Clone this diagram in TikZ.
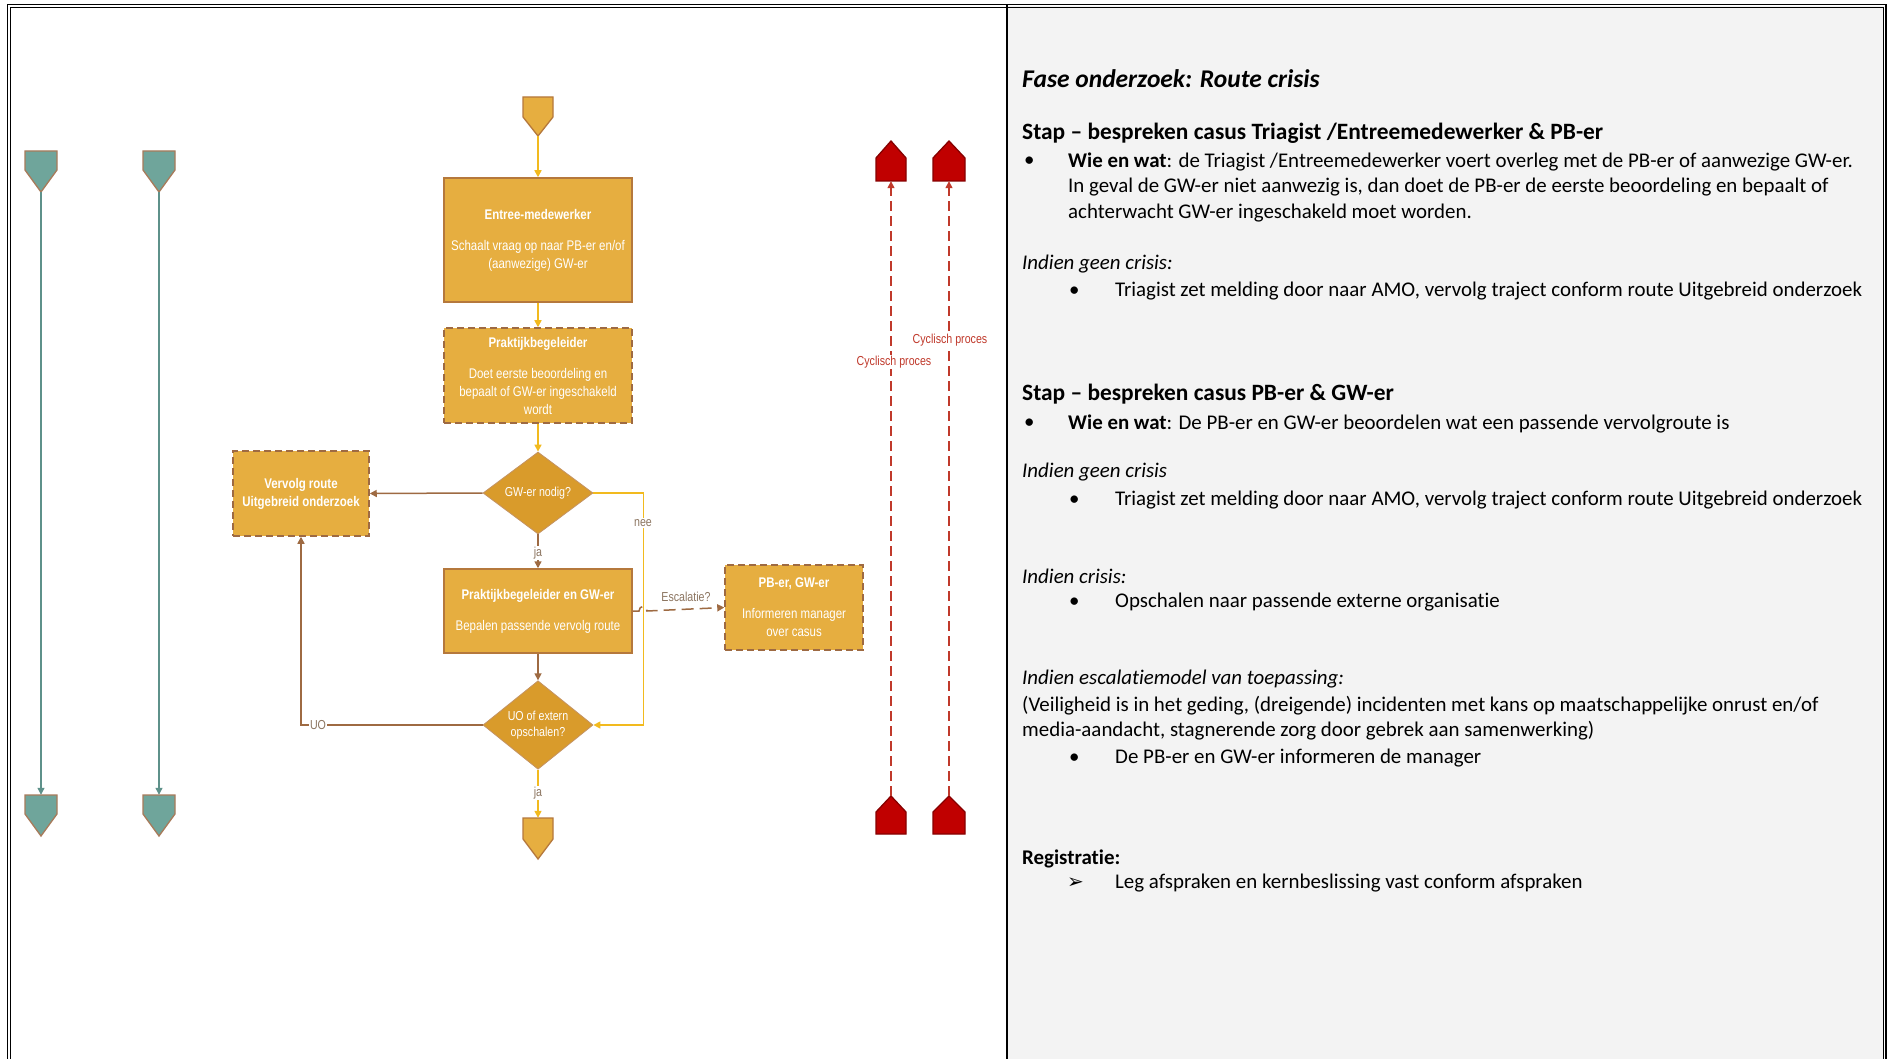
\documentclass[tikz,border=0pt]{standalone}
\usepackage{fontspec}
\setmainfont{Carlito}[Ligatures=NoCommon]
\newfontfamily\flowfont[FakeStretch=0.82]{Liberation Sans}
\newfontfamily\symfont{DejaVu Sans}
\usetikzlibrary{arrows.meta,shapes.geometric}
\definecolor{boxfill}{HTML}{E6AE40}
\definecolor{diafill}{HTML}{D99B2B}
\definecolor{boxedge}{HTML}{B5783C}
\definecolor{brownline}{HTML}{9E6A42}
\definecolor{lblcol}{HTML}{8C7560}
\definecolor{yellowline}{HTML}{F2BA1E}
\definecolor{tealfill}{HTML}{6FA59B}
\definecolor{tealline}{HTML}{5E918A}
\definecolor{tealedge}{HTML}{A87A5A}
\definecolor{redfill}{HTML}{C00000}
\definecolor{redline}{HTML}{C0392B}
\definecolor{panelgray}{HTML}{F3F3F3}
\newcommand\tagdown[8]{%
  \draw[fill=#7,draw=#8,line width=1.3pt] (#2,#3) ++(-#4,0) -- ++(2*#4,0) -- ++(0,#5) -- ++(-#4,#6) -- ++(-#4,-#6) -- cycle;
  \node[inner sep=0,minimum width=2*#4,minimum height=#5+#6] (#1) at (#2,#3+#5/2+#6/2) {};}
\newcommand\tagup[8]{%
  \draw[fill=#7,draw=#8,line width=1.3pt] (#2,#3) ++(-#4,0) -- ++(2*#4,0) -- ++(0,-#5) -- ++(-#4,-#6) -- ++(-#4,#6) -- cycle;
  \node[inner sep=0,minimum width=2*#4,minimum height=#5+#6] (#1) at (#2,#3-#5/2-#6/2) {};}
\tikzset{
  box/.style={rectangle, draw=boxedge, line width=1.5pt, fill=boxfill, text=white,
    font=\flowfont\fontsize{14}{18}\selectfont, align=center, minimum width=188, inner sep=2},
  dbox/.style={box, draw=brownline, dash pattern=on 7pt off 4pt},
  dia/.style={diamond, fill=diafill, draw=boxedge!80, line width=0.8pt, text=white,
    minimum width=110, minimum height=82, inner sep=0, align=center,
    font=\flowfont\fontsize{13}{16}\selectfont},
  yarr/.style={draw=yellowline, line width=1.5pt, -{Triangle[length=7pt,width=7pt]}},
  barr/.style={draw=brownline, line width=1.5pt, -{Triangle[length=7pt,width=7pt]}},
  tarr/.style={draw=tealline, line width=1.2pt, -{Triangle[length=7pt,width=7pt]}},
  rarr/.style={draw=redline, line width=1.5pt, dash pattern=on 10pt off 5pt, -{Triangle[length=7pt,width=7pt]}},
  lbl/.style={fill=white, inner sep=1pt, text=lblcol, font=\flowfont\fontsize{13}{15}\selectfont},
  rlbl/.style={fill=white, inner sep=1pt, text=redline, font=\flowfont\fontsize{13}{15}\selectfont},
  txt/.style={anchor=west, inner sep=0, font=\fontsize{20.9}{25}\selectfont},
  head/.style={anchor=west, inner sep=0, font=\fontsize{23.4}{28}\selectfont\bfseries},
}
\begin{document}
\begin{tikzpicture}[x=1pt,y=-1pt]
\useasboundingbox (0,0) rectangle (1890,1059);
\fill[white] (0,0) rectangle (1890,1059);
\fill[panelgray] (1008,6) rectangle (1884,1059);
% borders
\draw[line width=1.6pt] (7.5,1059) -- (7.5,4.5) -- (1886,4.5) -- (1886,1059);
\draw[line width=0.8pt] (10.5,1059) -- (10.5,7.5) -- (1883,7.5) -- (1883,1059);
\draw[line width=1.8pt] (1007,5) -- (1007,1059);

% teal off-page connectors
\tagdown{ta}{41}{151}{16}{19}{22}{tealfill}{tealedge}
\tagdown{tb}{159}{151}{16}{19}{22}{tealfill}{tealedge}
\tagdown{tc}{41}{795}{16}{19}{22}{tealfill}{tealedge}
\tagdown{td}{159}{795}{16}{19}{22}{tealfill}{tealedge}
\draw[tarr] (ta.south) -- (tc.north);
\draw[tarr] (tb.south) -- (td.north);

% red connectors
\tagup{ra}{891}{181}{15}{23}{17}{redfill}{redfill!70!black}
\tagup{rb}{949}{181}{16}{23}{17}{redfill}{redfill!70!black}
\tagup{rc}{891}{834}{15}{22}{16}{redfill}{redfill!70!black}
\tagup{rd}{949}{834}{16}{22}{16}{redfill}{redfill!70!black}
\draw[rarr] (rc.north) -- (ra.south);
\draw[rarr] (rd.north) -- (rb.south);
\node[rlbl] (cy1) at (894,362) {Cyclisch proces};
\node[rlbl] (cy2) at (950,340) {Cyclisch proces};

% flowchart
\tagdown{start}{538}{97}{15}{20}{19}{boxfill}{boxedge}
\node[box, minimum height=124] (entree) at (538,240)
  {\textbf{Entree-medewerker}\\[13pt]Schaalt vraag op naar PB-er en/of\\(aanwezige) GW-er};
\node[dbox, minimum height=95] (prak) at (538,375.5)
  {\textbf{Praktijkbegeleider}\\[13pt]Doet eerste beoordeling en\\bepaalt of GW-er ingeschakeld\\wordt};
\node[dia] (gw) at (538,493) {GW-er nodig?};
\node[dbox, minimum width=136, minimum height=85] (verv) at (301,493.5)
  {\textbf{Vervolg route}\\\textbf{Uitgebreid onderzoek}};
\node[box, minimum height=84] (pbgw) at (538,611)
  {\textbf{Praktijkbegeleider en GW-er}\\[13pt]Bepalen passende vervolg route};
\node[dia] (uo) at (538,725) {UO of extern\\opschalen?};
\node[dbox, minimum width=138, minimum height=85] (pber) at (794,607.5)
  {\textbf{PB-er, GW-er}\\[13pt]Informeren manager\\over casus};
\tagdown{stop}{538}{818}{15}{21}{20}{boxfill}{boxedge}

\draw[yarr] (start.south) -- (entree.north);
\draw[yarr] (entree.south) -- (prak.north);
\draw[yarr] (prak.south) -- (gw.north);
\draw[barr] (gw.west) -- (verv.east);
\draw[barr] (gw.south) -- (pbgw.north);
\node[lbl] (ja1) at (538,553) {ja};
\draw[yarr] (gw.east) -- ++(50,0) |- (uo.east);
\node[lbl] (nee) at (643,523) {nee};
\draw[barr] (pbgw.south) -- (uo.north);
\draw[barr] (uo.west) -| (verv.south);
\node[lbl] (uolbl) at (318,725) {UO};
\draw[yarr] (uo.south) -- (stop.north);
\node[lbl] (ja2) at (538,793) {ja};
\coordinate (hopa) at (639,611);
\coordinate (hopb) at (647,611);
\draw[barr, dash pattern=on 12pt off 6pt] (pbgw.east) -- (hopa) .. controls (639,605) and (647,605) .. (hopb) -- (pber.west);
\node[lbl, fill=none] (esc) at (686,597) {Escalatie?};

% right panel text
\node[anchor=west, inner sep=0, font=\fontsize{25.5}{30}\selectfont\bfseries\itshape] (title) at (1022,78.5) {Fase onderzoek: Route crisis};
\node[head] (h1) at (1022,133.5) {Stap – bespreken casus Triagist /Entreemedewerker \& PB-er};
\node[txt] (b1) at (1024,161.5) {•};
\node[txt] (l1) at (1068,161.5) {\textbf{Wie en wat}: de Triagist /Entreemedewerker voert overleg met de PB-er of aanwezige GW-er.};
\node[txt] (l2) at (1068,187) {In geval de GW-er niet aanwezig is, dan doet de PB-er de eerste beoordeling en bepaalt of};
\node[txt] (l3) at (1068,213.5) {achterwacht GW-er ingeschakeld moet worden.};
\node[txt] (i1) at (1022,264) {\itshape Indien geen crisis:};
\node[txt] (b2) at (1069,291.5) {•};
\node[txt] (l4) at (1115,291.5) {Triagist zet melding door naar AMO, vervolg traject conform route Uitgebreid onderzoek};
\node[head] (h2) at (1022,394.5) {Stap – bespreken casus PB-er \& GW-er};
\node[txt] (b3) at (1024,423.5) {•};
\node[txt] (l5) at (1068,423.5) {\textbf{Wie en wat}: De PB-er en GW-er beoordelen wat een passende vervolgroute is};
\node[txt] (i2) at (1022,472.5) {\itshape Indien geen crisis};
\node[txt] (b4) at (1069,500.5) {•};
\node[txt] (l6) at (1115,500.5) {Triagist zet melding door naar AMO, vervolg traject conform route Uitgebreid onderzoek};
\node[txt] (i3) at (1022,576.5) {\itshape Indien crisis:};
\node[txt] (b5) at (1069,602.5) {•};
\node[txt] (l7) at (1115,602.5) {Opschalen naar passende externe organisatie};
\node[txt] (i4) at (1022,679.5) {\itshape Indien escalatiemodel van toepassing:};
\node[txt] (l8) at (1022,705.5) {(Veiligheid is in het geding, (dreigende) incidenten met kans op maatschappelijke onrust en/of};
\node[txt] (l9) at (1022,730.5) {media-aandacht, stagnerende zorg door gebrek aan samenwerking)};
\node[txt] (b6) at (1069,758.5) {•};
\node[txt] (l10) at (1115,758.5) {De PB-er en GW-er informeren de manager};
\node[txt] (reg) at (1022,858.5) {\textbf{Registratie:}};
\node[txt, font=\symfont\fontsize{20}{24}\selectfont] (b7) at (1067,883.5) {➢};
\node[txt] (l11) at (1115,883.5) {Leg afspraken en kernbeslissing vast conform afspraken};
\end{tikzpicture}
\end{document}
